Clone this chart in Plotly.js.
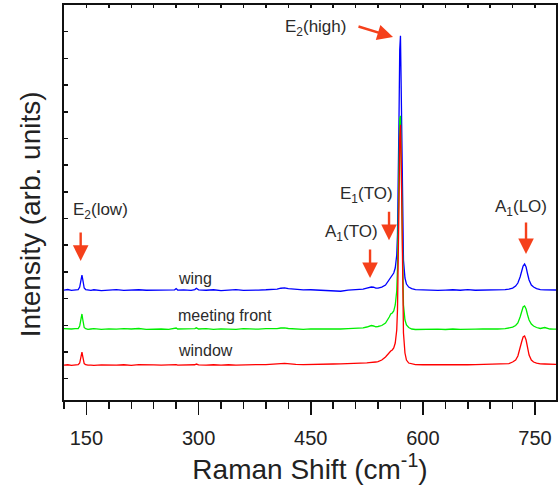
<!DOCTYPE html>
<html>
<head>
<meta charset="utf-8">
<script src="https://cdn.plot.ly/plotly-3.0.1.min.js"></script>
<style>html,body{margin:0;padding:0;background:#fff;}#chart{width:559px;height:489px;}</style>
</head>
<body>
<div id="chart"></div>
<script>
// ---- data ----
const ramanShift = [120,125,130,135,139,141,142,143,144,145,146,147,149,152,156,160,170,180,190,200,
  210,220,230,240,250,260,268,270,272,280,290,295,297,300,310,320,330,340,350,360,
  370,380,390,400,405,410,415,420,425,430,440,450,460,470,480,490,500,510,515,520,
  525,528,531,534,537,540,545,550,553,555,557,559,561,563,565,566,567,568,569,570,
  571,572,573,574,576,578,581,585,590,600,610,620,630,640,650,660,670,680,690,700,
  710,715,720,724,727,730,732,734,736,738,740,742,745,748,752,757,763,770,775,780];

const wingIntensity = [3320,3339,3309,3331,3339,3433,3658,3845,3883,3733,3508,3395,3339,3320,3305,3331,3301,3320,3335,3309,
  3320,3331,3313,3320,3331,3313,3328,3376,3320,3328,3309,3339,3388,3328,3313,3331,3301,3320,3335,3309,
  3328,3320,3331,3339,3358,3388,3403,3376,3358,3339,3328,3331,3313,3320,3298,3275,3320,3331,3339,3358,
  3395,3425,3433,3425,3395,3395,3433,3508,3620,3733,3808,3883,3958,4145,4633,5383,6883,9695,12320,12845,
  10820,7820,5570,4445,3770,3545,3433,3376,3339,3320,3328,3309,3320,3331,3313,3339,3313,3320,3328,3309,
  3339,3358,3395,3470,3583,3808,4033,4220,4295,4183,3920,3695,3508,3433,3376,3339,3328,3313,3320,3320];

const meetingFrontIntensity = [1871,1853,1860,1875,1879,1973,2198,2385,2423,2235,2010,1916,1871,1849,1860,1871,1849,1868,1853,1871,
  1860,1879,1849,1868,1860,1849,1871,1898,1860,1868,1853,1875,1905,1860,1871,1849,1868,1860,1849,1871,
  1860,1853,1871,1860,1871,1898,1905,1879,1871,1860,1849,1868,1860,1853,1871,1860,1875,1879,1890,1905,
  1935,1973,1991,1973,1943,1954,1991,2085,2198,2310,2423,2460,2535,2760,3285,4110,5798,8235,9735,9848,
  8048,5423,3660,2760,2198,2010,1916,1860,1841,1849,1838,1853,1841,1860,1849,1841,1853,1860,1849,1860,
  1871,1890,1928,1991,2085,2310,2535,2685,2723,2610,2385,2198,2048,1973,1916,1879,1916,1860,1853,1860];

const windowIntensity = [510,521,499,518,521,585,773,960,998,848,660,566,521,503,510,499,518,503,510,521,
  499,529,510,518,503,521,510,529,510,521,510,521,548,518,510,521,503,521,510,521,
  518,529,525,532,545,565,575,560,545,535,529,540,529,540,548,555,559,566,578,585,
  593,604,604,615,623,641,698,810,923,998,1035,1073,1148,1335,1823,2573,4073,6510,8948,9510,
  8198,5385,2948,1710,960,698,585,548,529,521,510,521,529,518,529,521,529,540,529,540,
  548,566,623,698,848,1110,1373,1560,1598,1448,1148,885,698,623,585,555,548,540,540,529];

const seriesNames = ['wing', 'meeting front', 'window'];
const xTickVals = [150, 300, 450, 600, 750];
const xTickLabels = ['150', '300', '450', '600', '750'];
const peakLabels = ['E<sub>2</sub>(low)', 'A<sub>1</sub>(TO)', 'E<sub>1</sub>(TO)', 'E<sub>2</sub>(high)', 'A<sub>1</sub>(LO)'];
const xTitle = 'Raman Shift (cm<sup>-1</sup>)';
const yTitle = 'Intensity (arb. units)';

// ---- styling / placement ----
const lineColors = ['#0000ff', '#00ee00', '#ff0000'];
const arrowColor = '#f5401b';
const textColor = '#2b2b2b';
const FONT = '"Liberation Sans", Arial, Helvetica, sans-serif';

const series = [wingIntensity, meetingFrontIntensity, windowIntensity];
const traces = series.map((ys, i) => ({
  type: 'scatter', mode: 'lines', x: ramanShift, y: ys, name: seriesNames[i],
  line: {color: lineColors[i], width: 1.3}, showlegend: false, hoverinfo: 'skip'
}));
// empty trace so that the top tick axis is drawn
traces.push({type: 'scatter', mode: 'lines', x: [], y: [], xaxis: 'x2', yaxis: 'y', showlegend: false, hoverinfo: 'skip'});

// label positions (data coords) for series names
const seriesLabelPos = [[269.5, 3770], [269.5, 2350], [269.5, 1040]];
// peak label positions and arrow tips
const peakTextPos = [[168.5, 6280], [504.5, 5460], [524.5, 6880], [456.5, 13140], [731, 6390]];
const arrowTips = [[142.3, 4410, 0, -30], [529.3, 3770, 0, -30], [554.7, 5190, 0, -30], [560, 12800, -36, -11], [737.9, 4670, 0, -33]];

const annotations = [];
seriesNames.forEach((n, i) => annotations.push({
  x: seriesLabelPos[i][0], y: seriesLabelPos[i][1], xref: 'x', yref: 'y', text: n,
  showarrow: false, xanchor: 'left', yanchor: 'middle', font: {family: FONT, size: 16, color: textColor}
}));
peakLabels.forEach((t, i) => {
  annotations.push({
    x: peakTextPos[i][0], y: peakTextPos[i][1], xref: 'x', yref: 'y', text: t,
    showarrow: false, xanchor: 'center', yanchor: 'middle', font: {family: FONT, size: 17, color: textColor}
  });
  annotations.push({
    x: arrowTips[i][0], y: arrowTips[i][1], xref: 'x', yref: 'y', text: '',
    showarrow: true, ax: arrowTips[i][2], ay: arrowTips[i][3], axref: 'pixel', ayref: 'pixel',
    arrowhead: 2, arrowsize: 1.3, arrowwidth: 2.4, arrowcolor: arrowColor, standoff: 0, startstandoff: 0
  });
});
// y axis title (placed as a rotated annotation to match the reference's vertical position)
annotations.push({
  x: 0, xref: 'paper', xanchor: 'center', xshift: -34,
  y: 0.47, yref: 'paper', yanchor: 'middle',
  text: yTitle, textangle: -90, showarrow: false,
  font: {family: FONT, size: 28, color: '#222'}
});

const layout = {
  width: 559, height: 489,
  margin: {l: 64, r: 3, t: 5, b: 89, pad: 0},
  paper_bgcolor: '#fff', plot_bgcolor: '#fff',
  font: {family: FONT, color: '#222'},
  xaxis: {
    range: [120, 778], tickmode: 'array', tickvals: xTickVals, ticktext: xTickLabels,
    ticks: 'outside', ticklen: 13, tickwidth: 1.5, tickcolor: '#111',
    minor: {tick0: 120, dtick: 30, ticks: 'outside', ticklen: 7, tickwidth: 1.5, tickcolor: '#111'},
    showline: true, linewidth: 2, linecolor: '#111', mirror: true,
    showgrid: false, zeroline: false, automargin: false,
    tickfont: {family: FONT, size: 20, color: '#222'}, ticklabelstandoff: 6,
    title: {text: xTitle, font: {family: FONT, size: 28, color: '#222'}, standoff: 6}
  },
  xaxis2: {
    overlaying: 'x', side: 'top', anchor: 'y', range: [120, 778], tick0: 120, dtick: 30,
    ticks: 'inside', ticklen: 3, tickwidth: 1.5, tickcolor: '#111',
    showticklabels: false, showline: false, showgrid: false, zeroline: false, automargin: false
  },
  yaxis: {
    range: [-800, 14000], tick0: 0, dtick: 1000,
    ticks: 'inside', ticklen: 4, tickwidth: 1.5, tickcolor: '#111',
    showticklabels: false, showline: true, linewidth: 2, linecolor: '#111', mirror: true,
    showgrid: false, zeroline: false, automargin: false
  },
  annotations: annotations,
  showlegend: false
};

Plotly.newPlot('chart', traces, layout, {staticPlot: true, displayModeBar: false});
</script>
</body>
</html>
